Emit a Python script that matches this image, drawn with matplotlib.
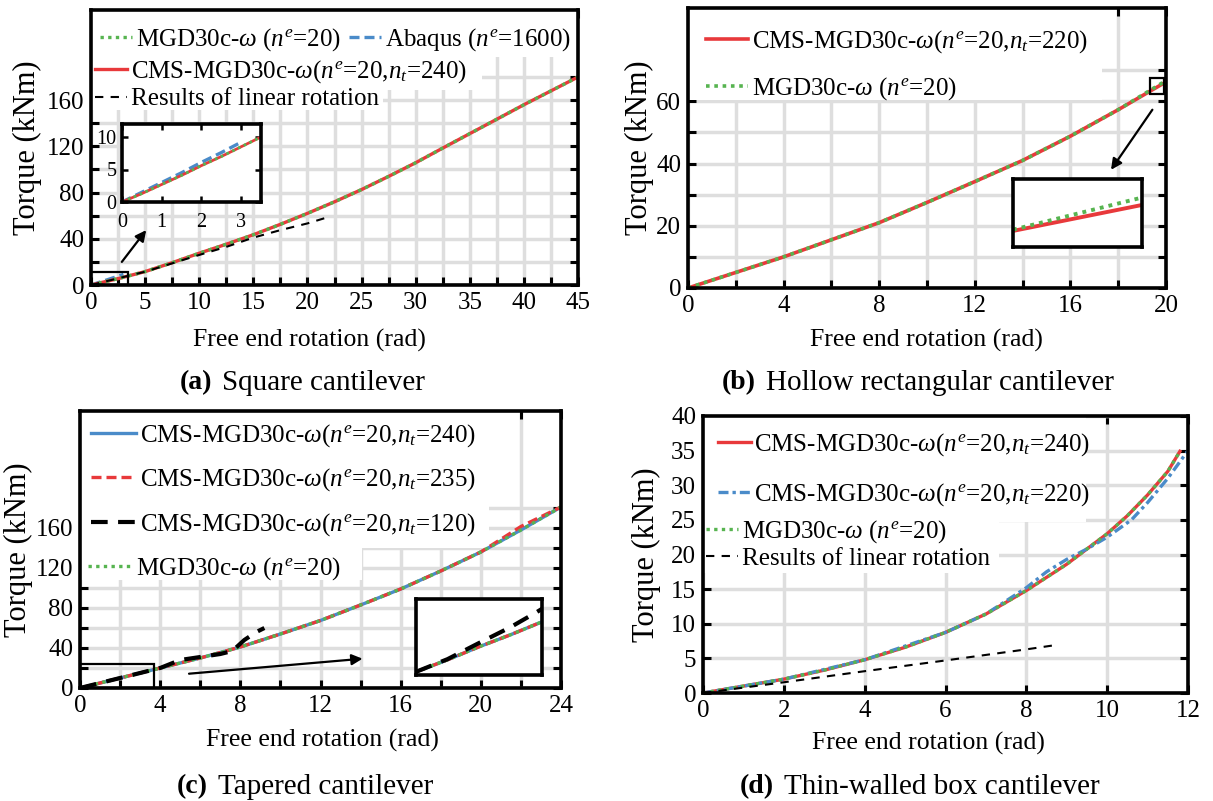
#!/usr/bin/env python3

import matplotlib
matplotlib.use('Agg')
import matplotlib.pyplot as plt
from matplotlib.legend import Legend
from matplotlib.patches import Rectangle
from matplotlib.ticker import FixedLocator, NullLocator
from matplotlib.transforms import blended_transform_factory

plt.rcParams['font.family'] = 'Liberation Serif'
plt.rcParams['mathtext.fontset'] = 'custom'
plt.rcParams['mathtext.rm'] = 'Liberation Serif'
plt.rcParams['mathtext.it'] = 'Liberation Serif:italic'
plt.rcParams['mathtext.bf'] = 'Liberation Serif:bold'

# ======================================================================
# Values.
# ======================================================================

# (a) square cantilever
a_rot = [0, 2.5, 5, 7.5, 10, 12.5, 15, 17.5, 20, 22.5, 25, 27.5, 30, 32.5,
         35, 37.5, 40, 42.5, 45]
a_cms = [0, 5.5, 11.6, 19.3, 27.5, 35.3, 43.5, 52.5, 62, 72, 82.6, 94,
         105.8, 118.5, 131, 143.5, 156, 168, 180]
a_mgd = [0, 5.5, 11.6, 19.3, 27.5, 35.3, 43.5, 52.5, 62, 72, 82.6, 94,
         105.8, 118.5, 131, 143.5, 156, 168, 180]
a_lin_rot = [0, 5, 10, 12.5, 15, 17.5, 20, 22]
a_lin = [0, 11.5, 26, 33, 41, 47.5, 53.3, 59]
a_abq_rot = [0, 0.5, 1, 1.5, 2, 2.5, 3]
a_abq = [0, 1.5, 3.0, 4.5, 6.1, 7.6, 9.2]
a_zoom_rot = [0, 0.5, 1, 1.5, 2, 2.5, 3, 3.5]
a_zoom_cms = [0, 1.3, 2.7, 4.1, 5.6, 7.0, 8.5, 10.0]
a_xticks = [0, 5, 10, 15, 20, 25, 30, 35, 40, 45]
a_xminor = [2.5, 7.5, 12.5, 17.5, 22.5, 27.5, 32.5, 37.5, 42.5]
a_yticks = [0, 40, 80, 120, 160]
a_yminor = [20, 60, 100, 140, 180]

# (b) hollow rectangular cantilever
b_rot = [0, 2, 4, 6, 8, 10, 12, 14, 16, 18, 19.9]
b_cms = [0, 5, 10, 15.5, 21, 27.5, 34.2, 41, 48.8, 57.3, 65.8]
b_mgd = [0, 5, 10, 15.5, 21, 27.5, 34.2, 41, 48.8, 57.3, 66.2]
b_zoom_rot = [19.4, 19.9]
b_zoom_cms = [63.3, 65.4]
b_zoom_mgd = [63.4, 66.0]
b_xticks = [0, 4, 8, 12, 16, 20]
b_xminor = [2, 6, 10, 14, 18]
b_yticks = [0, 20, 40, 60]
b_yminor = [10, 30, 50, 70]

# (c) tapered cantilever
c_rot = [0, 2, 4, 6, 8, 10, 12, 14, 16, 18, 20, 22, 24]
c_240 = [0, 10, 20, 30, 41, 54, 67.5, 83, 99, 117, 136, 158, 181]
c_235 = [0, 10, 20, 30, 41, 54, 67.5, 83, 99, 117, 136, 161.5, 181]
c_mgd = [0, 10, 20, 30, 41, 54, 67.5, 83, 99, 117, 136, 158, 181]
c_120_rot = [0, 1, 2, 3, 4, 4.5, 5, 6, 7, 7.6, 8.2, 8.8, 9.2]
c_120 = [0, 5, 10, 15, 20, 24, 28, 31, 34, 37, 48, 56, 60]
c_zoom_rot = [0, 0.925, 1.85, 2.775, 3.7]
c_zoom_cms = [1.0, 4.8, 8.9, 12.7, 16.8]
c_zoom_120_rot = [0, 0.925, 1.85, 2.775, 3.55, 3.7]
c_zoom_120 = [1.0, 5.0, 10.1, 15.1, 19.9, 20.9]
c_xticks = [0, 4, 8, 12, 16, 20, 24]
c_xminor = [2, 6, 10, 14, 18, 22]
c_yticks = [0, 40, 80, 120, 160]
c_yminor = [20, 60, 100, 140, 180]

# (d) thin-walled box cantilever
d_rot = [0, 1, 2, 3, 4, 5, 6, 7, 8, 9, 10, 10.5, 11, 11.5, 11.8]
d_240 = [0, 1.0, 2.0, 3.3, 4.8, 6.6, 8.75, 11.4, 14.8, 18.6, 23.0, 25.6,
         28.6, 32.0, 34.9]
d_mgd = [0, 1.0, 2.0, 3.3, 4.8, 6.6, 8.75, 11.4, 14.8, 18.6, 23.0, 25.6,
         28.6, 32.0, 34.9]
d_220_rot = [0, 2, 4, 6, 7, 8, 8.5, 9, 9.5, 10, 10.6, 11, 11.5, 12]
d_220 = [0, 2.0, 4.8, 8.75, 11.4, 15.2, 17.5, 19.3, 20.8, 22.5, 25.0,
         27.5, 31.0, 35.0]
d_lin_rot = [0, 2, 4, 6, 8, 8.7]
d_lin = [0, 1.55, 3.15, 4.7, 6.3, 6.9]
d_xticks = [0, 2, 4, 6, 8, 10, 12]
d_yticks = [0, 5, 10, 15, 20, 25, 30, 35, 40]

lab_mgd = r'MGD30c-$\omega$ ($n^e$=20)'
lab_abq = r'Abaqus ($n^e$=1600)'
lab_lin = 'Results of linear rotation'


def lab_cms(nt):
    return r'CMS-MGD30c-$\omega$($n^e$=20,$n_t$=%d)' % nt


# ======================================================================
# Layout helpers.
# ======================================================================

W, H = 1213, 801
RED = '#e8393b'
GREEN = '#57b450'
BLUE = '#4a8bc9'
GRID = '#dedede'
FS = 18          # ticks, legend
FS_X = 18.5      # x label
FS_Y = 22        # y label
DOT = (0, (1, 1.3))

fig = plt.figure(figsize=(W / 100, H / 100), dpi=100)


def px_box(l, t, r, b):
    return [l / W, 1 - b / H, (r - l) / W, (b - t) / H]


def panel(box, xlim, ylim, xt, xm, yt, ym, ylab_x, xlab_xy):
    ax = fig.add_axes(px_box(*box))
    ax.set_xlim(xlim)
    ax.set_ylim(ylim)
    ax.xaxis.set_major_locator(FixedLocator(xt))
    ax.yaxis.set_major_locator(FixedLocator(yt))
    ax.xaxis.set_minor_locator(FixedLocator(xm) if xm else NullLocator())
    ax.yaxis.set_minor_locator(FixedLocator(ym) if ym else NullLocator())
    ax.set_xticklabels(['%g' % v for v in xt])
    ax.set_yticklabels(['%g' % v for v in yt])
    ax.grid(True, which='both', color=GRID, lw=2.5)
    ax.set_axisbelow(True)
    ax.tick_params(which='both', direction='in', top=True, right=True,
                   length=5.5, width=2.2, labelsize=FS, pad=5)
    for s in ax.spines.values():
        s.set_linewidth(2.6)
    ax.set_xlabel('Free end rotation (rad)', fontsize=FS_X, va='center')
    ax.set_ylabel('Torque (kNm)', fontsize=FS_Y, va='center')
    ax.xaxis.set_label_coords(xlab_xy[0] / W, 1 - xlab_xy[1] / H,
                              transform=fig.transFigure)
    ax.yaxis.set_label_coords(
        ylab_x / W, 0.5,
        transform=blended_transform_factory(fig.transFigure, ax.transAxes))
    return ax


def blank(ax, x0, y0, x1, y1):
    # white patch that hides the grid behind a legend block
    ax.add_patch(Rectangle((x0, y0), x1 - x0, y1 - y0, transform=ax.transAxes,
                           fc='white', ec='none', zorder=1))


def legend(ax, handles, labels, anchor, **kw):
    opts = dict(loc='upper left', bbox_to_anchor=anchor, borderaxespad=0,
                frameon=False, fontsize=FS, handletextpad=0.15,
                borderpad=0.35)
    opts.update(kw)
    leg = Legend(ax, handles, labels, **opts)
    ax.add_artist(leg)
    return leg


def inset(box, xlim, ylim, ticks=False):
    ax = fig.add_axes(px_box(*box))
    ax.set_xlim(xlim)
    ax.set_ylim(ylim)
    ax.set_facecolor('white')
    for s in ax.spines.values():
        s.set_linewidth(2.6)
    if not ticks:
        ax.set_xticks([])
        ax.set_yticks([])
    return ax


def caption(x, y, tag, text):
    fig.text(x / W, 1 - y / H, tag, ha='right', va='center',
             fontsize=20, fontweight='bold')
    fig.text((x + 10) / W, 1 - y / H, text, ha='left', va='center',
             fontsize=21)


def arrow(ax, start, end):
    ax.annotate('', xy=end, xytext=start,
                arrowprops=dict(arrowstyle='-|>', color='k', lw=1.6,
                                mutation_scale=16, shrinkA=0, shrinkB=0))


# ======================================================================
# (a) Square cantilever.
# ======================================================================

ax = panel((91, 10, 578, 285), (0, 45), (0, 238), a_xticks, a_xminor,
           a_yticks, a_yminor, 27, (309, 340))
l_abq, = ax.plot(a_abq_rot, a_abq, color=BLUE, lw=2.4, ls=(0, (3, 1.5)))
l_cms, = ax.plot(a_rot, a_cms, color=RED, lw=2.4)
l_mgd, = ax.plot(a_rot, a_mgd, color=GREEN, lw=2.4, ls=DOT)
l_lin, = ax.plot(a_lin_rot, a_lin, color='k', lw=1.5, ls=(0, (4, 3.5)))
ax.add_patch(Rectangle((0, 0), 3.4, 11.5, fill=False, ec='k', lw=1.6,
                       zorder=4))
arrow(ax, (2.85, 20), (5.1, 47.5))
blank(ax, 0, 0.829, 1, 1)
blank(ax, 0, 0.709, 0.803, 0.829)
blank(ax, 0, 0.636, 0.60, 0.709)
legend(ax, [l_mgd, l_abq], [lab_mgd, lab_abq], (-0.015, 1), ncol=2,
       columnspacing=0.3, handlelength=1.3, borderpad=0.65)
legend(ax, [l_cms, l_lin], [lab_cms(240), lab_lin], (0, 0.837),
       handlelength=1.3, labelspacing=0.1, borderpad=0.15)

ai = inset((122, 124, 261, 202), (0, 3.5), (0, 12), ticks=True)
ai.plot(a_abq_rot, a_abq, color=BLUE, lw=2.4, ls=(0, (3, 1.5)))
ai.plot(a_zoom_rot, a_zoom_cms, color=RED, lw=2.0)
ai.plot(a_zoom_rot, a_zoom_cms, color=GREEN, lw=2.0, ls=DOT)
ai.set_xticks([0, 1, 2, 3])
ai.set_yticks([0, 5, 10])
ai.tick_params(direction='in', top=True, right=True, length=4, width=1.8,
               labelsize=14.5, pad=4)
ai.tick_params(axis='x', pad=8)
caption(212, 383, '(a)', 'Square cantilever')

# ======================================================================
# (b) Hollow rectangular cantilever.
# ======================================================================

ax = panel((688, 8, 1166, 288), (0, 20), (0, 90), b_xticks, b_xminor,
           b_yticks, b_yminor, 639, (926, 340))
l_cms, = ax.plot(b_rot, b_cms, color=RED, lw=2.6)
l_mgd, = ax.plot(b_rot, b_mgd, color=GREEN, lw=2.6, ls=DOT)
ax.add_patch(Rectangle((19.35, 62.2), 0.55, 5.3, fill=False, ec='k',
                       lw=1.6, zorder=4))
arrow(ax, (19.43, 57.3), (17.7, 38))
blank(ax, 0, 0.671, 0.866, 1)
legend(ax, [l_cms, l_mgd], [lab_cms(220), lab_mgd], (-0.005, 1),
       handlelength=1.7, labelspacing=0.8, borderpad=0.8)

bi = inset((1013, 179, 1142, 247), (19.4, 19.9), (62, 67.5))
bi.plot(b_zoom_rot, b_zoom_cms, color=RED, lw=2.8)
bi.plot(b_zoom_rot, b_zoom_mgd, color=GREEN, lw=2.8, ls=DOT)
caption(756, 383, '(b)', 'Hollow rectangular cantilever')

# ======================================================================
# (c) Tapered cantilever.
# ======================================================================

ax = panel((80, 411, 561, 688), (0, 24), (0, 277), c_xticks, c_xminor,
           c_yticks, c_yminor, 18, (322, 740))
l_240, = ax.plot(c_rot, c_240, color=BLUE, lw=2.4)
l_235, = ax.plot(c_rot, c_235, color=RED, lw=2.4, ls=(0, (3, 1.5)))
l_mgd, = ax.plot(c_rot, c_mgd, color=GREEN, lw=2.4, ls=DOT)
l_120, = ax.plot(c_120_rot, c_120, color='k', lw=3.0, ls=(0, (4, 2.5)))
ax.add_patch(Rectangle((0, 0), 3.7, 24, fill=False, ec='k', lw=1.6,
                       zorder=4))
arrow(ax, (5.44, 14.3), (14.1, 29.3))
blank(ax, 0, 0.505, 0.85, 1)
blank(ax, 0, 0.39, 0.586, 0.505)
legend(ax, [l_240, l_235, l_120], [lab_cms(240), lab_cms(235), lab_cms(120)],
       (0, 1), handlelength=1.8, labelspacing=0.7, borderpad=0.45)
legend(ax, [l_mgd], [lab_mgd], (0, 0.505), handlelength=1.8, borderpad=0.3)

ci = inset((416, 599, 542, 675), (0, 3.7), (0, 24))
ci.plot(c_zoom_rot, c_zoom_cms, color=BLUE, lw=2.4)
ci.plot(c_zoom_rot, c_zoom_cms, color=RED, lw=2.4, ls=(0, (3, 1.5)))
ci.plot(c_zoom_rot, c_zoom_cms, color=GREEN, lw=2.4, ls=DOT)
ci.plot(c_zoom_120_rot, c_zoom_120, color='k', lw=3.0, ls=(0, (4, 2.5)))
caption(208, 787, '(c)', 'Tapered cantilever')

# ======================================================================
# (d) Thin-walled box cantilever.
# ======================================================================

ax = panel((703, 416, 1188, 693), (0, 12), (0, 40), d_xticks, None,
           d_yticks, None, 646, (928, 743))
l_240, = ax.plot(d_rot, d_240, color=RED, lw=2.4)
l_220, = ax.plot(d_220_rot, d_220, color=BLUE, lw=2.4,
                 ls=(0, (3, 1.2, 1, 1.2)))
l_mgd, = ax.plot(d_rot, d_mgd, color=GREEN, lw=2.4, ls=DOT)
l_lin, = ax.plot(d_lin_rot, d_lin, color='k', lw=1.5, ls=(0, (4, 3.5)))
blank(ax, 0, 0.617, 0.79, 1)
blank(ax, 0, 0.433, 0.61, 0.617)
legend(ax, [l_240, l_220], [lab_cms(240), lab_cms(220)], (0, 1),
       handlelength=1.3, labelspacing=0.95, borderpad=0.6)
legend(ax, [l_mgd, l_lin], [lab_mgd, lab_lin], (0, 0.64),
       handlelength=1.3, labelspacing=0.1, borderpad=0.1)
caption(774, 787, '(d)', 'Thin-walled box cantilever')

fig.savefig('out.png', dpi=100)
